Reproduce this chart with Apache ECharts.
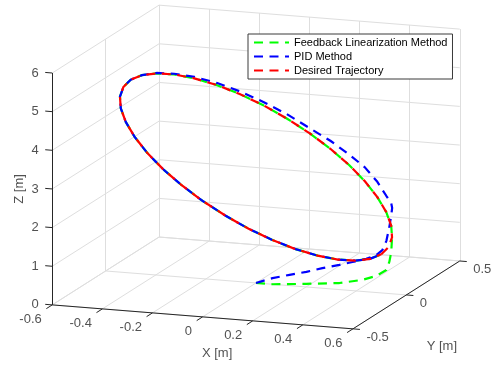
<!DOCTYPE html>
<html>
<head>
<meta charset="utf-8">
<script src="https://cdn.jsdelivr.net/npm/echarts@6/dist/echarts.min.js"></script>
<style>
  html, body { margin: 0; padding: 0; background: #ffffff; }
  #chart { width: 491px; height: 366px; }
</style>
</head>
<body>
<div id="chart"></div>
<script>
// ---- axis limits and ticks ----
const xLimits = [-0.6, 0.6];
const yLimits = [-0.5, 0.5];
const zLimits = [0, 6];
const xTicks = [-0.6, -0.4, -0.2, 0, 0.2, 0.4, 0.6];
const xTickLabels = ['-0.6', '-0.4', '-0.2', '0', '0.2', '0.4', '0.6'];
const yTicks = [-0.5, 0, 0.5];
const yTickLabels = ['-0.5', '0', '0.5'];
const zTicks = [0, 1, 2, 3, 4, 5, 6];
const zTickLabels = ['0', '1', '2', '3', '4', '5', '6'];
const axisTitles = ['X [m]', 'Y [m]', 'Z [m]'];
const seriesNames = ['Feedback Linearization Method', 'PID Method', 'Desired Trajectory'];

// ---- desired trajectory ----
const desiredX = [0.500, 0.492, 0.470, 0.433, 0.383, 0.321, 0.250, 0.171, 0.087, 0.000,
  -0.087, -0.171, -0.250, -0.321, -0.383, -0.433, -0.470, -0.492, -0.500,
  -0.492, -0.470, -0.433, -0.383, -0.321, -0.250, -0.171, -0.087, 0.000,
  0.087, 0.171, 0.250, 0.321, 0.383, 0.433, 0.470, 0.492, 0.500];
const desiredY = [0.000, 0.087, 0.171, 0.250, 0.321, 0.383, 0.433, 0.470, 0.492, 0.500,
  0.492, 0.470, 0.433, 0.383, 0.321, 0.250, 0.171, 0.087, 0.000,
  -0.087, -0.171, -0.250, -0.321, -0.383, -0.433, -0.470, -0.492, -0.500,
  -0.492, -0.470, -0.433, -0.383, -0.321, -0.250, -0.171, -0.087, 0.000];
const desiredZ = [1.000, 1.030, 1.121, 1.268, 1.468, 1.714, 2.000, 2.316, 2.653, 3.000,
  3.347, 3.684, 4.000, 4.286, 4.532, 4.732, 4.879, 4.970, 5.000,
  4.970, 4.879, 4.732, 4.532, 4.286, 4.000, 3.684, 3.347, 3.000,
  2.653, 2.316, 2.000, 1.714, 1.468, 1.268, 1.121, 1.030, 1.000];

// ---- feedback linearization response ----
const flX = [0.000, 0.066, 0.200, 0.333, 0.425, 0.480, 0.500, 0.500, 0.495,
  0.470, 0.433, 0.383, 0.321, 0.250, 0.171, 0.087, 0.000,
  -0.087, -0.171, -0.250, -0.321, -0.383, -0.433, -0.470, -0.492, -0.500,
  -0.492, -0.470, -0.433, -0.383, -0.321, -0.250, -0.171, -0.087, 0.000,
  0.087, 0.171, 0.250, 0.321, 0.383, 0.433, 0.470, 0.492, 0.500];
const flY = [0.000, 0.000, 0.000, 0.000, 0.000, 0.000, 0.047, 0.075, 0.105,
  0.171, 0.250, 0.321, 0.383, 0.433, 0.470, 0.492, 0.500,
  0.492, 0.470, 0.433, 0.383, 0.321, 0.250, 0.171, 0.087, 0.000,
  -0.087, -0.171, -0.250, -0.321, -0.383, -0.433, -0.470, -0.492, -0.500,
  -0.492, -0.470, -0.433, -0.383, -0.321, -0.250, -0.171, -0.087, 0.000];
const flZ = [0.000, 0.000, 0.080, 0.170, 0.300, 0.430, 0.510, 0.670, 0.870,
  1.121, 1.268, 1.468, 1.714, 2.000, 2.316, 2.653, 3.000,
  3.347, 3.684, 4.000, 4.286, 4.532, 4.732, 4.879, 4.970, 5.000,
  4.970, 4.879, 4.732, 4.532, 4.286, 4.000, 3.684, 3.347, 3.000,
  2.653, 2.316, 2.000, 1.714, 1.468, 1.268, 1.121, 1.030, 1.000];

// ---- PID response ----
const pidX = [0.000, 0.066, 0.134, 0.201, 0.265, 0.333, 0.385, 0.440, 0.480, 0.500,
  0.497, 0.490, 0.480, 0.459, 0.433,
  0.383, 0.321, 0.250, 0.171, 0.087, 0.000, -0.087, -0.171, -0.250, -0.321,
  -0.383, -0.433, -0.470, -0.492, -0.500, -0.492, -0.470, -0.433, -0.383, -0.321,
  -0.250, -0.171, -0.087, 0.000, 0.087, 0.171, 0.250, 0.321, 0.383, 0.433,
  0.470, 0.492, 0.500];
const pidY = [0.000, 0.000, 0.000, 0.000, 0.000, 0.000, 0.000, 0.000, 0.000, 0.010,
  0.055, 0.098, 0.140, 0.198, 0.250,
  0.321, 0.383, 0.433, 0.470, 0.492, 0.500, 0.492, 0.470, 0.433, 0.383,
  0.321, 0.250, 0.171, 0.087, 0.000, -0.087, -0.171, -0.250, -0.321, -0.383,
  -0.433, -0.470, -0.492, -0.500, -0.492, -0.470, -0.433, -0.383, -0.321, -0.250,
  -0.171, -0.087, 0.000];
const pidZ = [0.000, 0.160, 0.280, 0.390, 0.520, 0.640, 0.740, 0.850, 0.970, 1.090,
  1.250, 1.520, 1.750, 1.830, 1.850,
  1.890, 2.110, 2.360, 2.590, 2.860, 3.130, 3.460, 3.770, 4.070, 4.340,
  4.570, 4.750, 4.890, 4.970, 5.000, 4.970, 4.879, 4.732, 4.532, 4.286,
  4.000, 3.684, 3.347, 3.000, 2.653, 2.316, 2.000, 1.714, 1.468, 1.268,
  1.121, 1.030, 1.000];

// ---- orthographic camera (azimuth / elevation in degrees, box edge lengths in px) ----
const camera = { azimuth: 19.5, elevation: 13.0, box: [319, 320, 238] };

function project(x, y, z) {
  const u = (x - xLimits[0]) / (xLimits[1] - xLimits[0]) - 0.5;
  const v = (y - yLimits[0]) / (yLimits[1] - yLimits[0]) - 0.5;
  const w = (z - zLimits[0]) / (zLimits[1] - zLimits[0]) - 0.5;
  const X = u * camera.box[0], Y = v * camera.box[1], Z = w * camera.box[2];
  const a = camera.azimuth * Math.PI / 180, e = camera.elevation * Math.PI / 180;
  return [
    X * Math.cos(a) + Y * Math.sin(a),
    -X * Math.sin(a) * Math.sin(e) + Y * Math.cos(a) * Math.sin(e) + Z * Math.cos(e)
  ];
}

function path(xs, ys, zs) {
  return xs.map((x, i) => project(x, ys[i], zs[i]));
}

const [x0, x1] = xLimits, [y0, y1] = yLimits, [z0, z1] = zLimits;

// grid lines on the back wall, left wall and floor
const gridSegs = [];
xTicks.forEach(x => gridSegs.push([[x, y1, z0], [x, y1, z1]]));
zTicks.forEach(z => gridSegs.push([[x0, y1, z], [x1, y1, z]]));
yTicks.forEach(y => gridSegs.push([[x0, y, z0], [x0, y, z1]]));
zTicks.forEach(z => gridSegs.push([[x0, y0, z], [x0, y1, z]]));
xTicks.forEach(x => gridSegs.push([[x, y0, z0], [x, y1, z0]]));
yTicks.forEach(y => gridSegs.push([[x0, y, z0], [x1, y, z0]]));

// axis lines and outward tick marks
const tickLenX = 0.028 * (x1 - x0) / 1.2;
const tickLenY = 0.055 * (y1 - y0);
const axisSegs = [
  [[x0, y0, z0], [x1, y0, z0]],
  [[x1, y0, z0], [x1, y1, z0]],
  [[x0, y0, z0], [x0, y0, z1]]
];
xTicks.forEach(x => axisSegs.push([[x, y0, z0], [x, y0 - tickLenY, z0]]));
yTicks.forEach(y => axisSegs.push([[x1, y, z0], [x1 + tickLenX, y, z0]]));
zTicks.forEach(z => axisSegs.push([[x0, y0, z], [x0 - tickLenX, y0, z]]));

const toLines = segs => segs.map(s => ({ coords: s.map(p => project(p[0], p[1], p[2])) }));

const FONT = "'Liberation Sans', Arial, Helvetica, sans-serif";
const TEXT_COLOR = '#262626';

function textSeries(points, names, labelOpts) {
  return {
    type: 'scatter',
    symbolSize: 1,
    itemStyle: { color: 'rgba(0,0,0,0)' },
    silent: true,
    z: 10,
    data: points.map((p, i) => ({ name: names[i], value: project(p[0], p[1], p[2]) })),
    label: Object.assign({
      show: true,
      formatter: '{b}',
      color: TEXT_COLOR,
      fontSize: 13,
      fontFamily: FONT
    }, labelOpts)
  };
}

const dash = [9, 6.5];

const chart = echarts.init(document.getElementById('chart'), null, { renderer: 'canvas' });
chart.setOption({
  animation: false,
  backgroundColor: '#ffffff',
  grid: { left: 0, right: 0, top: 0, bottom: 0 },
  xAxis: { type: 'value', min: -256, max: 235, show: false },
  yAxis: { type: 'value', min: -199, max: 167, show: false },
  legend: {
    data: seriesNames,
    orient: 'vertical',
    left: 248,
    top: 34,
    padding: [3, 5, 3, 5],
    itemWidth: 35,
    itemHeight: 12,
    itemGap: 3,
    itemStyle: { opacity: 0 },
    backgroundColor: '#ffffff',
    borderColor: '#3a3a3a',
    borderWidth: 1,
    borderRadius: 0,
    textStyle: { fontSize: 11, color: '#000000', fontFamily: FONT }
  },
  series: [
    {
      type: 'lines', coordinateSystem: 'cartesian2d', polyline: false, silent: true, z: 1,
      lineStyle: { color: '#dedede', width: 1, opacity: 1, curveness: 0 },
      data: toLines(gridSegs)
    },
    {
      type: 'lines', coordinateSystem: 'cartesian2d', polyline: false, silent: true, z: 1,
      lineStyle: { color: '#262626', width: 1, opacity: 1, curveness: 0 },
      data: toLines(axisSegs)
    },
    {
      name: seriesNames[0], type: 'line', symbol: 'none', showSymbol: false, clip: false, z: 3,
      lineStyle: { color: '#00ff00', width: 2.2, type: dash },
      itemStyle: { color: '#00ff00' },
      data: path(flX, flY, flZ)
    },
    {
      name: seriesNames[1], type: 'line', symbol: 'none', showSymbol: false, clip: false, z: 4,
      lineStyle: { color: '#0000ff', width: 2.2, type: dash },
      itemStyle: { color: '#0000ff' },
      data: path(pidX, pidY, pidZ)
    },
    {
      name: seriesNames[2], type: 'line', symbol: 'none', showSymbol: false, clip: false, z: 5,
      lineStyle: { color: '#ff0000', width: 2.2, type: dash },
      itemStyle: { color: '#ff0000' },
      data: path(desiredX, desiredY, desiredZ)
    },
    textSeries(xTicks.map(x => [x, y0, z0]), xTickLabels,
      { position: [-10, 15.5], align: 'right', verticalAlign: 'middle' }),
    textSeries(yTicks.map(y => [x1, y, z0]), yTickLabels,
      { position: [14, 9], align: 'left', verticalAlign: 'middle' }),
    textSeries(zTicks.map(z => [x0, y0, z]), zTickLabels,
      { position: [-13, 0.5], align: 'right', verticalAlign: 'middle' }),
    textSeries([[0, y0, z0]], [axisTitles[0]],
      { position: [15, 37], align: 'center', verticalAlign: 'middle' }),
    textSeries([[x1, 0, z0]], [axisTitles[1]],
      { position: [36, 52], align: 'center', verticalAlign: 'middle' }),
    textSeries([[x0, y0, (z0 + z1) / 2]], [axisTitles[2]],
      { position: [-32, 0.5], align: 'center', verticalAlign: 'middle', rotate: 90 })
  ]
});
</script>
</body>
</html>
